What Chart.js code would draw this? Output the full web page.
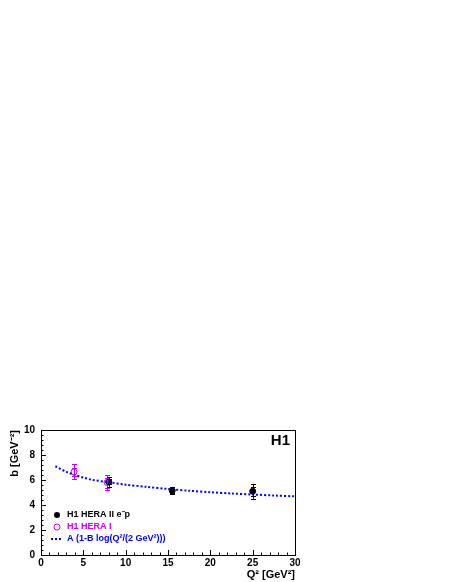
<!DOCTYPE html>
<html><head><meta charset="utf-8">
<script src="https://cdn.jsdelivr.net/npm/chart.js@4"></script>
<style>html,body{margin:0;padding:0;background:#fff;}#wrap{position:absolute;left:0;top:0;width:450px;height:582px;}</style>
</head><body><div id="wrap"><canvas id="c" width="450" height="582"></canvas></div>
<script>
// HERA II e-p data
const q2HeraII = [8.0, 15.5, 25.0];
const bHeraII = [5.85, 5.15, 5.1];
const statHeraII = [0.2, 0.15, 0.35];
const totHeraII = [0.4, 0.3, 0.6];
// HERA I data
const q2HeraI = [3.9, 7.8];
const bHeraI = [6.65, 5.8];
const statHeraI = [0.3, 0.4];
const totHeraI = [0.6, 0.6];
// fit curve
const fitQ2 = [1.7, 3, 4, 5, 6, 8, 10, 12.5, 15, 17.5, 20, 22.5, 25, 27.5, 30];
const fitB = [7.1, 6.65, 6.4, 6.2, 6.02, 5.82, 5.62, 5.45, 5.28, 5.14, 5.02, 4.92, 4.84, 4.76, 4.69];
const xTicks = [0, 5, 10, 15, 20, 25, 30];
const yTicks = [0, 2, 4, 6, 8, 10];
const legendLabels = ['H1 HERA II e\u207Bp', 'H1 HERA I', 'A (1-B log(Q\u00B2/(2 GeV\u00B2)))'];

const FONT = 'Liberation Sans, Arial, sans-serif';
const toXY = (xs, ys) => xs.map((x, i) => ({x: x, y: ys[i]}));

const framePlugin = {
  id: 'frame',
  beforeDatasetsDraw(chart) {
    const ctx = chart.ctx, a = chart.chartArea, xs = chart.scales.x, ys = chart.scales.y;
    ctx.save();
    ctx.strokeStyle = '#000'; ctx.lineWidth = 1;
    ctx.strokeRect(Math.round(a.left) + 0.5, Math.round(a.top) + 0.5, Math.round(a.right - a.left), Math.round(a.bottom - a.top));
    ctx.beginPath();
    for (let v = 0; v <= 30; v += 1) {
      const px = Math.round(xs.getPixelForValue(v)) + 0.5;
      const len = (v % 5 === 0) ? 5 : 2.5;
      ctx.moveTo(px, a.bottom); ctx.lineTo(px, a.bottom - len);
    }
    for (let k = 0; k <= 25; k++) {
      const v = k * 0.4;
      const py = Math.round(ys.getPixelForValue(v)) + 0.5;
      const len = (k % 5 === 0) ? 5 : 2.5;
      ctx.moveTo(a.left, py); ctx.lineTo(a.left + len, py);
    }
    ctx.stroke();
    ctx.restore();
  },
  afterDatasetsDraw(chart) {
    const ctx = chart.ctx, a = chart.chartArea, xs = chart.scales.x, ys = chart.scales.y;
    ctx.save();
    const drawErr = (qs, bs, st, tot, col) => {
      ctx.strokeStyle = col; ctx.lineWidth = 1;
      ctx.beginPath();
      qs.forEach((q, i) => {
        const px = Math.round(xs.getPixelForValue(q)) + 0.5;
        const yt = ys.getPixelForValue(bs[i] + tot[i]);
        const yb = ys.getPixelForValue(bs[i] - tot[i]);
        ctx.moveTo(px, yt); ctx.lineTo(px, yb);
        [bs[i] + tot[i], bs[i] - tot[i], bs[i] + st[i], bs[i] - st[i]].forEach(v => {
          const py = Math.round(ys.getPixelForValue(v)) + 0.5;
          ctx.moveTo(px - 2.5, py); ctx.lineTo(px + 2.5, py);
        });
      });
      ctx.stroke();
    };
    drawErr(q2HeraI, bHeraI, statHeraI, totHeraI, '#cc00ff');
    drawErr(q2HeraII, bHeraII, statHeraII, totHeraII, '#000');
    // H1 label
    ctx.font = 'bold 15px ' + FONT;
    ctx.fillStyle = '#000'; ctx.textAlign = 'right'; ctx.textBaseline = 'middle';
    ctx.fillText('H1', a.right - 5, a.top + 11);
    // legend
    ctx.font = 'bold 9px ' + FONT; ctx.textAlign = 'left';
    const lx = a.left + 16, tx = a.left + 26;
    const rows = [a.top + 85, a.top + 97, a.top + 109];
    ctx.fillStyle = '#000';
    ctx.beginPath(); ctx.arc(lx, rows[0], 3, 0, 2 * Math.PI); ctx.fill();
    ctx.fillText(legendLabels[0], tx, rows[0]);
    ctx.strokeStyle = '#cc00ff'; ctx.lineWidth = 1;
    ctx.beginPath(); ctx.arc(lx, rows[1], 3, 0, 2 * Math.PI); ctx.stroke();
    ctx.fillStyle = '#cc00ff'; ctx.fillText(legendLabels[1], tx, rows[1]);
    ctx.strokeStyle = '#0000ff'; ctx.lineWidth = 2; ctx.setLineDash([2, 2]);
    ctx.beginPath(); ctx.moveTo(lx - 6, rows[2]); ctx.lineTo(lx + 6, rows[2]); ctx.stroke();
    ctx.setLineDash([]);
    ctx.fillStyle = '#0000ff'; ctx.fillText(legendLabels[2], tx, rows[2]);
    ctx.restore();
  }
};

new Chart(document.getElementById('c'), {
  type: 'scatter',
  data: {
    datasets: [
      {label: legendLabels[2], type: 'line', data: toXY(fitQ2, fitB), borderColor: '#0000ff', borderWidth: 2, borderDash: [2, 2], pointRadius: 0, fill: false, tension: 0.3},
      {label: legendLabels[1], data: toXY(q2HeraI, bHeraI), pointStyle: 'circle', pointRadius: 3, borderColor: '#cc00ff', backgroundColor: 'rgba(0,0,0,0)', borderWidth: 1},
      {label: legendLabels[0], data: toXY(q2HeraII, bHeraII), pointStyle: 'circle', pointRadius: 3, borderColor: '#000', backgroundColor: '#000', borderWidth: 1}
    ]
  },
  options: {
    responsive: false, animation: false, devicePixelRatio: 1,
    layout: {padding: {left: 0, top: 430, right: 155, bottom: 0}},
    plugins: {legend: {display: false}, tooltip: {enabled: false}},
    scales: {
      x: {
        type: 'linear', min: 0, max: 30,
        afterBuildTicks: s => { s.ticks = xTicks.map(v => ({value: v})); },
        afterFit: s => { s.height = 27; },
        grid: {display: false, drawTicks: false}, border: {display: true, color: '#000'},
        ticks: {color: '#000', font: {family: FONT, size: 10, weight: 'bold'}, padding: 2, maxRotation: 0},
        title: {display: true, text: 'Q\u00B2 [GeV\u00B2]', align: 'end', color: '#000', font: {family: FONT, size: 11, weight: 'bold'}, padding: {top: 0, bottom: 0}}
      },
      y: {
        type: 'linear', min: 0, max: 10,
        afterBuildTicks: s => { s.ticks = yTicks.map(v => ({value: v})); },
        afterFit: s => { s.width = 41; },
        grid: {display: false, drawTicks: false}, border: {display: true, color: '#000'},
        ticks: {color: '#000', font: {family: FONT, size: 10, weight: 'bold'}, padding: 6},
        title: {display: true, text: 'b [GeV\u207B\u00B2]', align: 'end', color: '#000', font: {family: FONT, size: 11, weight: 'bold'}, padding: {top: 8, bottom: 0}}
      }
    }
  },
  plugins: [framePlugin]
});
</script></body></html>
